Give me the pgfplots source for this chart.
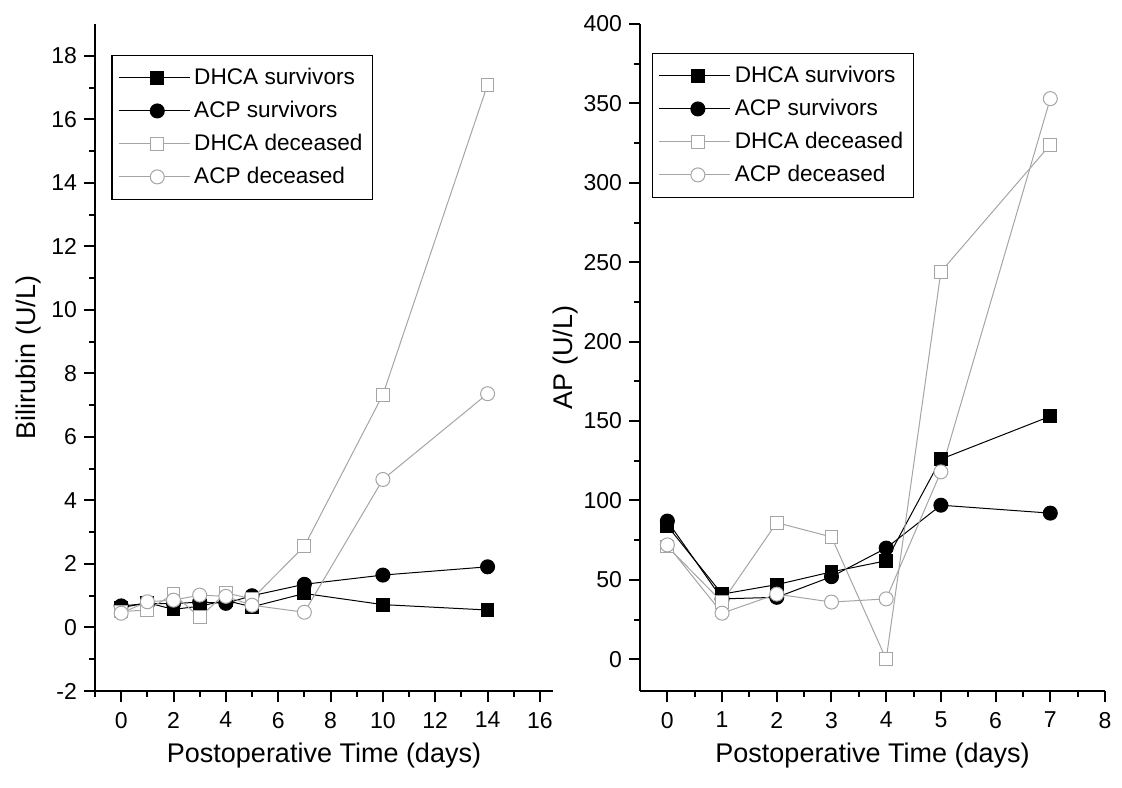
\documentclass[border=0pt]{standalone}
\usepackage{fontspec}
\setmainfont{Liberation Sans}
\usepackage{pgfplots}
\pgfplotsset{compat=1.18}
\definecolor{dec}{RGB}{165,165,165}
\begin{document}
\begin{tikzpicture}
\useasboundingbox (-47.5pt,-48pt) rectangle (513.5pt,345.5pt);
\pgfplotsset{
 mystyle/.style={
  scale only axis,
  axis x line*=bottom, axis y line*=left,
  axis line style={line width=1.3pt,-},
  tick style={line width=1pt, black},
  tick align=outside,
  major tick length=5.5pt, minor tick length=2.8pt,
  ticklabel style={font=\fontsize{11.5}{14}\selectfont},
  xticklabel style={yshift=-1.5pt},
  label style={font=\fontsize{13.5}{16}\selectfont},
  /pgf/number format/assume math mode=true,
  legend cell align=left,
  legend style={draw=black, line width=0.6pt, font=\fontsize{11.3}{14}\selectfont, row sep=2.8pt, inner xsep=3pt, inner ysep=4.5pt},
  legend image code/.code={\path (0cm,0cm) -- (1.25cm,0cm); \draw[mark repeat=2,mark phase=2] plot coordinates {(0.25cm,0cm)(0.68cm,0cm)(1.11cm,0cm)};},
 },
 s1/.style={black, line width=0.5pt, mark=square*, mark size=3.2pt, mark options={fill=black, draw=black}},
 s2/.style={black, line width=0.5pt, mark=*, mark size=3.5pt, mark options={fill=black, draw=black}},
 s3/.style={dec, line width=0.5pt, mark=square*, mark size=3.2pt, mark options={fill=white, draw=dec}},
 s4/.style={dec, line width=0.5pt, mark=*, mark size=3.5pt, mark options={fill=white, draw=dec}},
}
\begin{axis}[mystyle,
  at={(0pt,0pt)}, anchor=south west,
  width=229pt, height=333.5pt,
  xmin=-1, xmax=16.5, ymin=-2, ymax=19,
  xtick={0,2,...,16}, minor xtick={-1,1,...,15},
  ytick={-2,0,...,18}, minor ytick={-1,1,...,17},
  xlabel={Postoperative Time (days)},
  ylabel={Bilirubin (U/L)},
  xlabel style={at={(axis description cs:0.5,-0.096)}, anchor=center},
  ylabel style={at={(axis description cs:-0.145,0.5)}, anchor=center},
  legend style={at={(axis description cs:0.036,0.954)}, anchor=north west},
]
\addplot[s1] coordinates {(0,0.62)(1,0.78)(2,0.57)(3,0.67)(4,0.85)(5,0.65)(7,1.07)(10,0.72)(14,0.55)};
\addlegendentry{DHCA survivors}
\addplot[s2] coordinates {(0,0.68)(1,0.75)(2,0.75)(3,0.8)(4,0.76)(5,1.0)(7,1.36)(10,1.65)(14,1.91)};
\addlegendentry{ACP survivors}
\addplot[s3] coordinates {(0,0.5)(1,0.55)(2,1.05)(3,0.32)(4,1.09)(5,0.9)(7,2.56)(10,7.33)(14,17.09)};
\addlegendentry{DHCA deceased}
\addplot[s4] coordinates {(0,0.45)(1,0.81)(2,0.86)(3,1.02)(4,0.98)(5,0.7)(7,0.48)(10,4.66)(14,7.36)};
\addlegendentry{ACP deceased}
\end{axis}
\begin{axis}[mystyle,
  at={(272.5pt,0pt)}, anchor=south west,
  width=232.5pt, height=333.5pt,
  xmin=-0.5, xmax=8, ymin=-20, ymax=400,
  xtick={0,...,8}, minor xtick={0.5,1.5,...,7.5},
  ytick={0,50,...,400}, minor ytick={25,75,...,375},
  xlabel={Postoperative Time (days)},
  ylabel={AP (U/L)},
  xlabel style={at={(axis description cs:0.5,-0.096)}, anchor=center},
  ylabel style={at={(axis description cs:-0.16,0.5)}, anchor=center},
  legend style={at={(axis description cs:0.026,0.957)}, anchor=north west},
]
\addplot[s1] coordinates {(0,84)(1,41)(2,47)(3,55)(4,62)(5,126)(7,153)};
\addlegendentry{DHCA survivors}
\addplot[s2] coordinates {(0,87)(1,38)(2,39)(3,52)(4,70)(5,97)(7,92)};
\addlegendentry{ACP survivors}
\addplot[s3] coordinates {(0,71)(1,36)(2,86)(3,77)(4,0)(5,244)(7,324)};
\addlegendentry{DHCA deceased}
\addplot[s4] coordinates {(0,72)(1,29)(2,41)(3,36)(4,38)(5,118)(7,353)};
\addlegendentry{ACP deceased}
\end{axis}
\end{tikzpicture}
\end{document}
